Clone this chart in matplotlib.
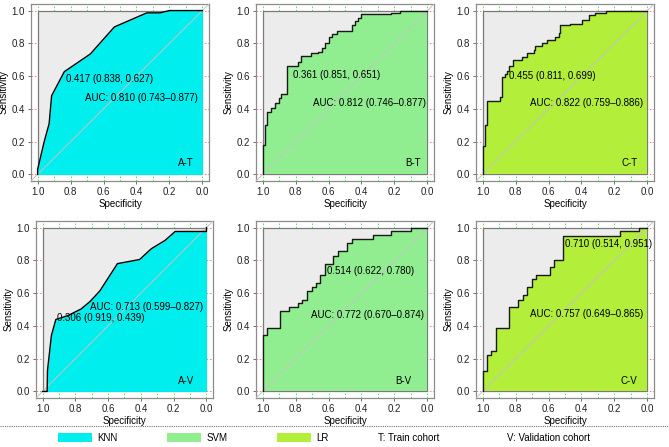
import numpy as np
import matplotlib
matplotlib.use("Agg")
import matplotlib.pyplot as plt
from matplotlib.patches import Rectangle, Patch
from matplotlib.lines import Line2D

plt.rcParams["font.family"] = ["Liberation Sans", "DejaVu Sans"]
plt.rcParams["font.size"] = 7

MODEL_COLORS = {"KNN": "#00EEEE", "SVM": "#90EE90", "LR": "#B3EE3A"}
UPPER_GRAY = "#ECECEC"

# ROC curves (specificity, sensitivity)
knn_t_spec = [1.0, 1.0, 0.96, 0.93, 0.915, 0.838, 0.68, 0.534, 0.337, 0.257, 0.2, 0.0]
knn_t_sens = [0.0, 0.03, 0.2, 0.31, 0.48, 0.627, 0.735, 0.90, 0.986, 0.986, 1.0, 1.0]

svm_t_spec = [1.0, 0.986, 0.974, 0.946, 0.922, 0.898, 0.886, 0.851, 0.787, 0.769, 0.705,
              0.665, 0.641, 0.62, 0.60, 0.58, 0.55, 0.46, 0.44, 0.42, 0.404, 0.219, 0.169, 0.0]
svm_t_sens = [0.0, 0.179, 0.30, 0.38, 0.408, 0.437, 0.465, 0.493, 0.662, 0.688, 0.724,
              0.738, 0.748, 0.769, 0.799, 0.839, 0.859, 0.875, 0.91, 0.936, 0.956, 0.976, 0.984, 1.0]

lr_t_spec = [1.0, 0.988, 0.974, 0.894, 0.88, 0.865, 0.853, 0.839, 0.813, 0.759, 0.729, 0.689,
             0.679, 0.639, 0.608, 0.558, 0.538, 0.528, 0.468, 0.398, 0.357, 0.317, 0.249, 0.0]
lr_t_sens = [0.0, 0.171, 0.302, 0.447, 0.473, 0.594, 0.614, 0.634, 0.664, 0.698, 0.716, 0.738,
             0.76, 0.783, 0.799, 0.819, 0.839, 0.865, 0.91, 0.916, 0.944, 0.97, 0.984, 1.0]

knn_v_spec = [1.0, 0.972, 0.97, 0.946, 0.919, 0.845, 0.765, 0.71, 0.65, 0.543, 0.483, 0.408,
              0.336, 0.252, 0.191, 0.0, 0.0]
knn_v_sens = [0.0, 0.0, 0.127, 0.342, 0.439, 0.463, 0.503, 0.549, 0.614, 0.78, 0.791, 0.805,
              0.871, 0.922, 0.976, 0.976, 1.0]

svm_v_spec = [1.0, 0.972, 0.892, 0.841, 0.785, 0.761, 0.731, 0.70, 0.677, 0.649, 0.624, 0.570,
              0.540, 0.486, 0.460, 0.329, 0.219, 0.098, 0.0]
svm_v_sens = [0.0, 0.342, 0.390, 0.489, 0.513, 0.537, 0.561, 0.612, 0.636, 0.660, 0.708, 0.780,
              0.829, 0.855, 0.905, 0.930, 0.953, 0.976, 1.0]

lr_v_spec = [1.0, 0.972, 0.946, 0.920, 0.839, 0.783, 0.755, 0.728, 0.702, 0.676, 0.594, 0.569,
             0.513, 0.165, 0.054, 0.0]
lr_v_sens = [0.0, 0.123, 0.221, 0.245, 0.390, 0.513, 0.561, 0.586, 0.636, 0.684, 0.708, 0.757,
             0.805, 0.951, 0.976, 1.0]

# panel: label, model, spec, sens, stepped, threshold text, auc text
PANELS = [
    ("A-T", "KNN", knn_t_spec, knn_t_sens, False, "0.417 (0.838, 0.627)", "AUC: 0.810 (0.743\u20130.877)"),
    ("B-T", "SVM", svm_t_spec, svm_t_sens, True, "0.361 (0.851, 0.651)", "AUC: 0.812 (0.746\u20130.877)"),
    ("C-T", "LR", lr_t_spec, lr_t_sens, True, "0.455 (0.811, 0.699)", "AUC: 0.822 (0.759\u20130.886)"),
    ("A-V", "KNN", knn_v_spec, knn_v_sens, False, "0.306 (0.919, 0.439)", "AUC: 0.713 (0.599\u20130.827)"),
    ("B-V", "SVM", svm_v_spec, svm_v_sens, True, "0.514 (0.622, 0.780)", "AUC: 0.772 (0.670\u20130.874)"),
    ("C-V", "LR", lr_v_spec, lr_v_sens, True, "0.710 (0.514, 0.951)", "AUC: 0.757 (0.649\u20130.865)"),
]
# text placements (data coords)
THRES_POS = [(0.825, 0.583), (0.815, 0.608), (0.839, 0.600), (0.909, 0.446), (0.610, 0.736), (0.501, 0.901)]
AUC_POS = [(0.37, 0.466), (0.35, 0.435), (0.37, 0.433), (0.367, 0.515), (0.366, 0.465), (0.369, 0.473)]
LABEL_POS = [(0.10, 0.069), (0.088, 0.07), (0.11, 0.07), (0.125, 0.066), (0.149, 0.066), (0.11, 0.066)]

W, H = 669, 447
fig = plt.figure(figsize=(W / 100, H / 100), dpi=100)

# axes frames in pixels: (left, top)
FRAMES = [(31, 4), (256, 4), (476, 4), (36, 221), (256, 221), (476, 221)]
aw, ah = 178, 177

for i, (lab, model, spec, sens, stepped, thr, auc) in enumerate(PANELS):
    fl, ft = FRAMES[i]
    ax = fig.add_axes([fl / W, 1 - (ft + ah) / H, (aw - (1 if i == 3 else 0)) / W, ah / H])
    ax.set_xlim(1.04, -0.04)
    ax.set_ylim(-0.04, 1.04)
    ticks = np.arange(0, 1.01, 0.2)
    ax.set_xticks(ticks)
    ax.set_yticks(ticks)
    ax.set_xticklabels([f"{v:.1f}" for v in ticks])
    ax.set_yticklabels([f"{v:.1f}" for v in ticks])
    # grid lines (visible only in the margins)
    for gx in np.arange(0, 1.01, 0.1):
        ax.axvline(gx, color="#44DD44", lw=0.6, ls=(0, (2, 2)), zorder=0)
    for gy in ticks:
        ax.axhline(gy, color="#FF7070", lw=0.6, ls=(0, (2, 2)), zorder=0)
    ax.add_patch(Rectangle((0, 0), 1, 1, fc=UPPER_GRAY, ec="#7a7a7a", lw=0.9, zorder=1))
    step = "pre" if stepped else None
    ax.fill_between(spec, 0, sens, step=step, color=MODEL_COLORS[model], lw=0, zorder=2)
    ax.plot([1.04, -0.04], [-0.04, 1.04], color="#C4C4C4", lw=0.7, zorder=3)
    ax.plot(spec, sens, color="#1a1a1a" if stepped else "black", lw=1.0,
            drawstyle="steps-pre" if stepped else "default", zorder=4)
    ax.text(*THRES_POS[i], thr, ha="left", va="center", zorder=5)
    ax.text(*AUC_POS[i], auc, ha="center", va="center", zorder=5)
    ax.text(*LABEL_POS[i], lab, ha="center", va="center", zorder=5)
    for s in ax.spines.values():
        s.set_color("#8c8c8c")
        s.set_linewidth(0.9)
    ax.tick_params(length=2.5, width=0.6, color="#555555", pad=2, labelsize=7, labelcolor="#222222")
    ax.set_xlabel("Specificity", labelpad=1, fontsize=7)
    ax.set_ylabel("Sensitivity", labelpad=2, fontsize=7)

# bottom separator + legend
sep_y = 1 - 425.5 / H
fig.add_artist(Line2D([0, 1], [sep_y, sep_y], color="#777777", lw=0.8, ls=(0, (1, 1))))
handles = [Patch(fc=MODEL_COLORS[m], ec="none") for m in ["KNN", "SVM", "LR"]]
fig.legend(handles, ["KNN", "SVM", "LR"], ncol=3, frameon=False, loc="center left",
           bbox_to_anchor=(58 / W, 1 - 438 / H), borderpad=0, borderaxespad=0,
           handlelength=3.5, handleheight=1.0, handletextpad=0.5, columnspacing=5.15, fontsize=7)
fig.text(378 / W, 1 - 438 / H, "T: Train cohort", ha="left", va="center", fontsize=7)
fig.text(507 / W, 1 - 438 / H, "V: Validation cohort", ha="left", va="center", fontsize=7)

fig.savefig("out.png", dpi=100)
